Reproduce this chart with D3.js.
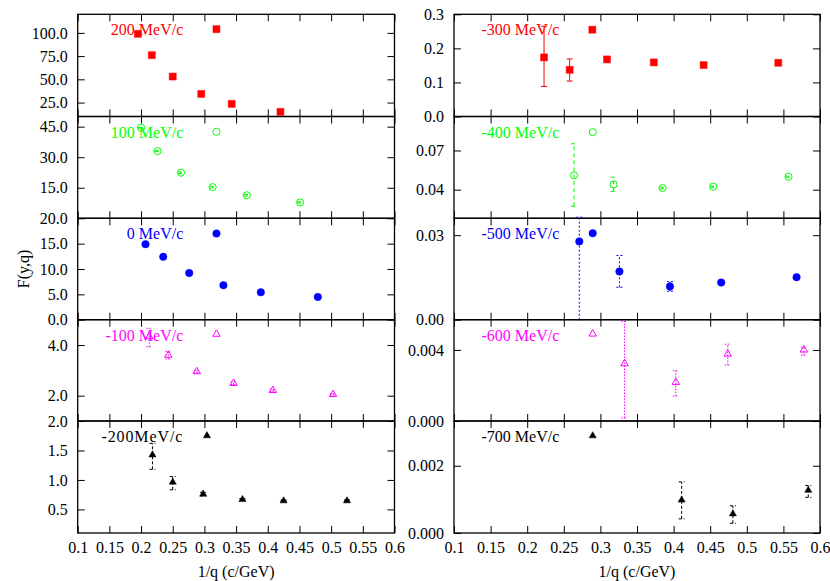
<!DOCTYPE html>
<html>
<head>
<meta charset="utf-8">
<script src="https://cdn.jsdelivr.net/npm/d3@7"></script>
<style>
  body { margin: 0; background: #fff; }
  svg text { font-family: "Liberation Serif", "DejaVu Serif", serif; }
</style>
</head>
<body>
<svg id="chart" width="830" height="581"></svg>
<script>
/* F(y,q) vs 1/q for ten momentum bins, two columns of stacked panels */

const xTicks = [0.1, 0.15, 0.2, 0.25, 0.3, 0.35, 0.4, 0.45, 0.5, 0.55, 0.6];

// left column
const q200 = [0.195, 0.217, 0.250, 0.295, 0.343, 0.420, 0.319];
const f200 = [99, 76, 53, 34.3, 23.6, 15, 104];

const q100 = [0.200, 0.226, 0.263, 0.313, 0.367, 0.451, 0.319];
const f100 = [44.5, 33.0, 22.4, 15.3, 11.3, 7.8, 42.5];
const lo100 = [44.3, 32.8, 22.0, 14.9, 10.9, 7.5, null];
const hi100 = [44.7, 33.2, 22.8, 15.7, 11.7, 8.1, null];

const q0 = [0.207, 0.235, 0.276, 0.330, 0.389, 0.479, 0.319];
const f0 = [14.9, 12.4, 9.2, 6.8, 5.4, 4.5, 17.0];

const qm100 = [0.213, 0.243, 0.288, 0.346, 0.408, 0.503, 0.319];
const fm100 = [4.33, 3.6, 2.95, 2.49, 2.21, 2.05, 4.43];
const lom100 = [3.93, 3.45, 2.90, 2.44, 2.17, 2.02, null];
const him100 = [4.66, 3.75, 3.00, 2.54, 2.25, 2.08, null];

const qm200 = [0.218, 0.250, 0.298, 0.360, 0.425, 0.525, 0.304];
const fm200 = [1.425, 0.963, 0.76, 0.668, 0.646, 0.646, 1.75];
const lom200 = [1.18, 0.833, 0.73, 0.65, 0.63, 0.63, null];
const him200 = [1.62, 1.058, 0.79, 0.685, 0.66, 0.66, null];

// right column
const qm300 = [0.223, 0.258, 0.289, 0.309, 0.373, 0.441, 0.543];
const fm300 = [0.1735, 0.137, 0.2547, 0.1676, 0.1588, 0.151, 0.1577];
const lom300 = [0.088, 0.104, null, 0.163, null, null, null];
const him300 = [0.265, 0.169, null, 0.172, null, null, null];

const qm400 = [0.264, 0.2895, 0.318, 0.385, 0.454, 0.557];
const fm400 = [0.0509, 0.084, 0.044, 0.0412, 0.0423, 0.0499];
const lom400 = [0.0273, null, 0.0387, 0.0405, 0.0418, 0.0495];
const him400 = [0.0751, null, 0.0496, 0.0419, 0.0428, 0.0503];

const qm500 = [0.2712, 0.2895, 0.326, 0.395, 0.465, 0.568];
const fm500 = [0.0278, 0.0307, 0.0171, 0.0118, 0.0132, 0.0151];
const lom500 = [0, null, 0.0115, 0.0101, 0.0125, null];
const him500 = [0.0364, null, 0.0228, 0.0135, 0.0139, null];

const qm600 = [0.2895, 0.333, 0.403, 0.474, 0.578];
const fm600 = [0.0049, 0.00323, 0.00218, 0.00377, 0.0040];
const lom600 = [null, 0.00017, 0.0014, 0.00315, 0.0037];
const him600 = [null, 0.0056, 0.00283, 0.00432, 0.00415];

const qm700 = [0.2895, 0.411, 0.481, 0.584];
const fm700 = [0.00289, 0.00098, 0.00057, 0.00127];
const lom700 = [null, 0.00042, 0.00029, 0.00106];
const him700 = [null, 0.00152, 0.00081, 0.00141];

const panels = [
  { col: 0, row: 0, label: "200 MeV/c", color: "#ff0000", sym: d3.symbolSquare, size: 49, fill: true, dash: null,
    domain: [10, 120], ticks: [25, 50, 75, 100], fmt: ".1f", x: q200, y: f200 },
  { col: 0, row: 1, label: "100 MeV/c", color: "#00ff00", sym: d3.symbolCircle, size: 40, fill: false, dash: "4,3",
    domain: [0, 50], ticks: [15, 30, 45], fmt: ".1f", x: q100, y: f100, lo: lo100, hi: hi100 },
  { col: 0, row: 2, label: "0 MeV/c", color: "#0000ff", sym: d3.symbolCircle, size: 44, fill: true, dash: "2,2",
    domain: [0, 20], ticks: [0, 5, 10, 15, 20], fmt: ".1f", x: q0, y: f0 },
  { col: 0, row: 3, label: "-100 MeV/c", color: "#ff00ff", sym: d3.symbolTriangle, size: 24, fill: false, dash: "1.5,1.5",
    domain: [1, 5], ticks: [2, 4], fmt: ".1f", x: qm100, y: fm100, lo: lom100, hi: him100 },
  { col: 0, row: 4, label: "-200MeV/c", color: "#000000", sym: d3.symbolTriangle, size: 22, fill: true, dash: "3,2",
    domain: [0.1, 2.0], ticks: [0.5, 1.0, 1.5, 2.0], fmt: ".1f", x: qm200, y: fm200, lo: lom200, hi: him200, spacing: 0.9 },
  { col: 1, row: 0, label: "-300 MeV/c", color: "#ff0000", sym: d3.symbolSquare, size: 49, fill: true, dash: null,
    domain: [0, 0.3], ticks: [0, 0.1, 0.2, 0.3], fmt: ".1f", x: qm300, y: fm300, lo: lom300, hi: him300 },
  { col: 1, row: 1, label: "-400 MeV/c", color: "#00ff00", sym: d3.symbolCircle, size: 40, fill: false, dash: "4,3",
    domain: [0.0181, 0.096], ticks: [0.04, 0.07], fmt: ".2f", x: qm400, y: fm400, lo: lom400, hi: him400 },
  { col: 1, row: 2, label: "-500 MeV/c", color: "#0000ff", sym: d3.symbolCircle, size: 44, fill: true, dash: "2,2",
    domain: [0, 0.036], ticks: [0, 0.03], fmt: ".2f", x: qm500, y: fm500, lo: lom500, hi: him500 },
  { col: 1, row: 3, label: "-600 MeV/c", color: "#ff00ff", sym: d3.symbolTriangle, size: 24, fill: false, dash: "1.5,1.5",
    domain: [0, 0.0057], ticks: [0, 0.004], fmt: ".3f", x: qm600, y: fm600, lo: lom600, hi: him600 },
  { col: 1, row: 4, label: "-700 MeV/c", color: "#000000", sym: d3.symbolTriangle, size: 22, fill: true, dash: "3,2",
    domain: [0, 0.00333], ticks: [0, 0.002], fmt: ".3f", x: qm700, y: fm700, lo: lom700, hi: him700 },
];

const cols = [
  { left: 77.7, right: 394.5, labelEnd: 183.3 },
  { left: 454, right: 820, labelEnd: 559.3 },
];
const rowEdges = [14.3, 116.5, 218.3, 319.7, 421, 533];
const tick = 7;

const svg = d3.select("#chart");

function styleAxis(g) {
  g.select(".domain").remove();
  g.selectAll(".tick line").attr("stroke", "#000").attr("stroke-width", 1);
  g.selectAll("text").attr("font-size", 16).attr("font-family", "Liberation Serif").attr("fill", "#000");
}

for (const p of panels) {
  const c = cols[p.col];
  const top = rowEdges[p.row], bottom = rowEdges[p.row + 1];
  const isBottom = p.row === 4;

  const x = d3.scaleLinear().domain([0.1, 0.6]).range([c.left, c.right]);
  const y = d3.scaleLinear().domain(p.domain).range([bottom, top]);

  const g = svg.append("g");

  // axes, ticks pointing inward on all four sides
  g.append("g")
    .attr("transform", `translate(${c.left},0)`)
    .call(d3.axisLeft(y).tickValues(p.ticks).tickFormat(d3.format(p.fmt))
      .tickSizeInner(-tick).tickSizeOuter(0).tickPadding(10))
    .call(styleAxis);

  g.append("g")
    .attr("transform", `translate(${c.right},0)`)
    .call(d3.axisRight(y).tickValues(p.ticks).tickFormat("")
      .tickSizeInner(-tick).tickSizeOuter(0))
    .call(styleAxis);

  g.append("g")
    .attr("transform", `translate(0,${top})`)
    .call(d3.axisTop(x).tickValues(xTicks).tickFormat("")
      .tickSizeInner(-tick).tickSizeOuter(0))
    .call(styleAxis);

  g.append("g")
    .attr("transform", `translate(0,${bottom})`)
    .call(d3.axisBottom(x).tickValues(xTicks)
      .tickFormat(isBottom ? d3.format("~g") : "")
      .tickSizeInner(-tick).tickSizeOuter(0).tickPadding(9))
    .call(styleAxis);

  g.append("rect")
    .attr("x", c.left).attr("y", top)
    .attr("width", c.right - c.left).attr("height", bottom - top)
    .attr("fill", "none").attr("stroke", "#000").attr("stroke-width", 1.3);

  // panel label
  g.append("text")
    .attr("x", c.labelEnd)
    .attr("y", top + 21)
    .attr("text-anchor", "end")
    .attr("font-size", 16)
    .attr("letter-spacing", p.spacing || 0)
    .attr("fill", p.color)
    .text(p.label);

  const pts = p.x.map((q, i) => ({
    q, f: p.y[i],
    lo: p.lo ? p.lo[i] : null,
    hi: p.hi ? p.hi[i] : null,
  }));

  // error bars
  const eb = g.append("g")
    .attr("stroke", p.color)
    .attr("stroke-width", 1)
    .attr("stroke-dasharray", p.dash);

  for (const d of pts.filter((d) => d.lo !== null)) {
    const cx = x(d.q);
    eb.append("line")
      .attr("x1", cx).attr("x2", cx)
      .attr("y1", y(d.lo)).attr("y2", y(d.hi));
    for (const v of [d.lo, d.hi]) {
      eb.append("line")
        .attr("x1", cx - 3).attr("x2", cx + 3)
        .attr("y1", y(v)).attr("y2", y(v));
    }
  }

  // markers
  g.append("g")
    .selectAll("path")
    .data(pts)
    .join("path")
    .attr("transform", (d) => `translate(${x(d.q)},${y(d.f)})`)
    .attr("d", d3.symbol().type(p.sym).size(p.size))
    .attr("fill", p.fill ? p.color : "none")
    .attr("stroke", p.color)
    .attr("stroke-width", p.fill ? 0.5 : 1);

  if (isBottom) {
    svg.append("text")
      .attr("x", (c.left + c.right) / 2)
      .attr("y", 576.5)
      .attr("text-anchor", "middle")
      .attr("font-size", 16)
      .text("1/q (c/GeV)");
  }
}

svg.append("text")
  .attr("transform", "translate(29,269) rotate(-90)")
  .attr("text-anchor", "middle")
  .attr("font-size", 16)
  .text("F(y,q)");
</script>
</body>
</html>
